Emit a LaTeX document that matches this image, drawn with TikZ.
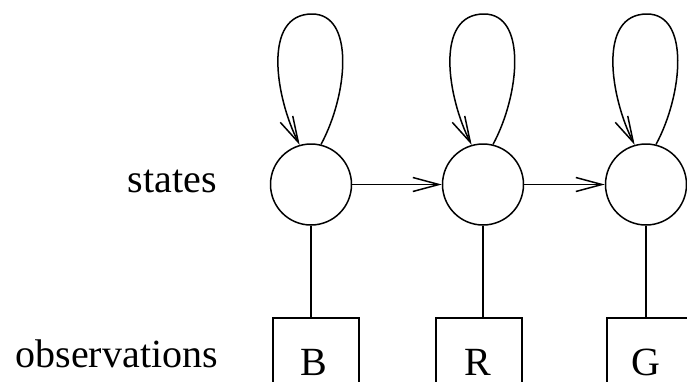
\documentclass[tikz,border=0pt]{standalone}
\usepackage{fontspec}
\setmainfont{Liberation Serif}
\usetikzlibrary{arrows.meta,calc}
\begin{document}
\begin{tikzpicture}[x=1pt,y=-1pt,
  every node/.style={font=\fontsize{40}{48}\selectfont},
  state/.style={circle,draw,line width=1.5pt,minimum size=81pt,inner sep=0pt},
  obs/.style={rectangle,draw,line width=1.5pt,minimum size=86pt,inner sep=0pt},
  letter/.style={anchor=base,inner sep=0pt},
  conn/.style={line width=1.5pt},
  arr/.style={line width=1.5pt,-{Straight Barb[length=26pt,width=14pt,line width=1.5pt]}}]
\useasboundingbox (0,0) rectangle (687,381);
\node[state] (s1) at (311,184.5) {};
\node[state] (s2) at (483,184.5) {};
\node[state] (s3) at (646,184.5) {};
\node[obs] (b1) at (316,361) {};
\node[obs] (b2) at (479,361) {};
\node[obs] (b3) at (650,361) {};
\node[letter] (t1) at (314,375) {B};
\node[letter] (t2) at (478,375) {R};
\node[letter] (t3) at (646,375) {G};
\node[anchor=base east,inner sep=0pt] (lst) at (217,192) {states};
\node[anchor=base east,inner sep=0pt] (lob) at (218,367) {observations};
\draw[arr] (s1.east) -- (s2.west);
\draw[arr] (s2.east) -- (s3.west);
\foreach \s/\b in {s1/b1,s2/b2,s3/b3}{
  \draw[conn] (\s.south) -- (\s.south |- \b.north);
  \draw[arr] (\s.76) .. controls +(27,-50) and +(43,0) .. ($(\s.center)+(1,-170.5)$)
     .. controls +(-50,0) and +(-24,-47) .. (\s.106);
}
\end{tikzpicture}
\end{document}
